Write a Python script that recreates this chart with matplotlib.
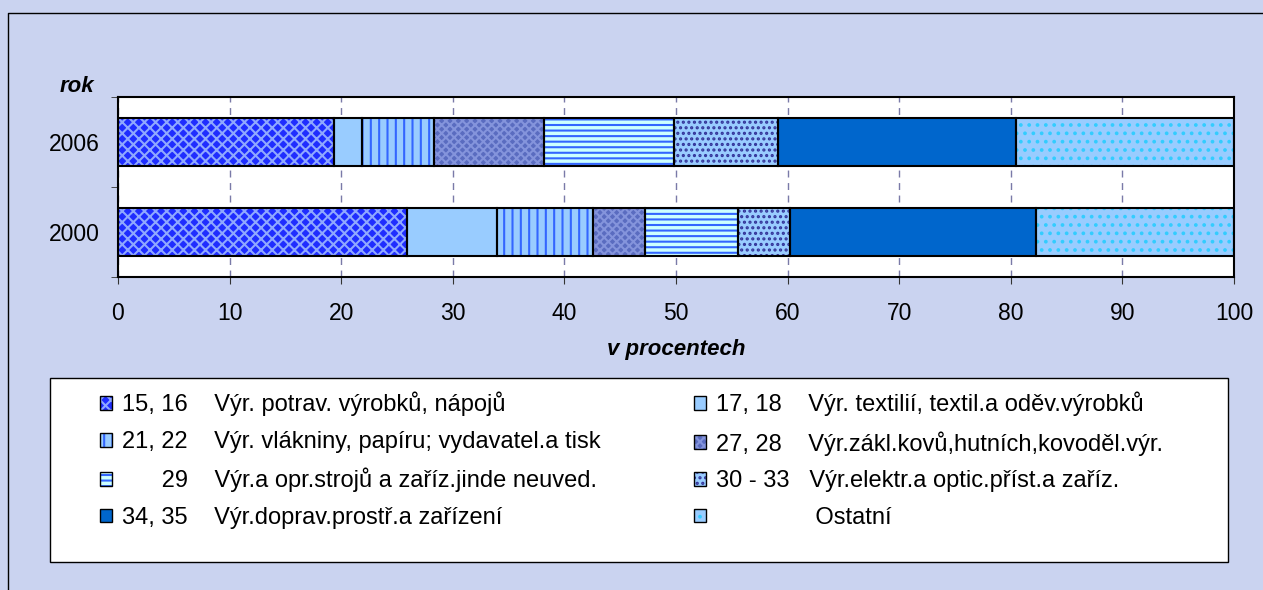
import numpy as np
import matplotlib.pyplot as plt
from matplotlib.patches import Patch, Rectangle
from matplotlib.lines import Line2D

plt.rcParams['font.family'] = ['Liberation Sans', 'DejaVu Sans']
plt.rcParams['hatch.linewidth'] = 1.5

years = ['2000', '2006']
labels = [
    '15, 16    Výr. potrav. výrobků, nápojů',
    '17, 18    Výr. textilií, textil.a oděv.výrobků',
    '21, 22    Výr. vlákniny, papíru; vydavatel.a tisk',
    '27, 28    Výr.zákl.kovů,hutních,kovoděl.výr.',
    '      29    Výr.a opr.strojů a zaříz.jinde neuved.',
    '30 - 33   Výr.elektr.a optic.příst.a zaříz.',
    '34, 35    Výr.doprav.prostř.a zařízení',
    '               Ostatní',
]
# shares in percent, same order as labels
share_2000 = [25.9, 8.1, 8.6, 4.6, 8.4, 4.6, 22.1, 17.7]
share_2006 = [19.35, 2.55, 6.4, 9.9, 11.6, 9.3, 21.4, 19.5]

face = ['#1f2dff', '#99ccff', '#99ccff', '#5a6cc0', '#ccffff', '#99ccff', '#0066cc', '#99ccff']
hatch_col = ['#8fa8ff', '#99ccff', '#3366ff', '#8494dc', '#3366ff', '#333399', '#0066cc', '#33ccff']
hatches = ['xxx', '', '||', 'xxxx', '---', '...', '', '..']

W, H = 1263, 590
fig = plt.figure(figsize=(W / 100, H / 100), dpi=100, facecolor='#cad3f0')
ax = fig.add_axes([118 / W, 1 - 277 / H, (1234 - 118) / W, (277 - 97) / H])
ax.set_facecolor('white')

values = np.array([share_2000, share_2006])
ypos = np.arange(len(years))
left = np.zeros(len(years))
for i in range(len(labels)):
    # hatch colour comes from edgecolor, so outline is drawn separately
    ax.barh(ypos, values[:, i], left=left, height=0.54, color=face[i],
            edgecolor=hatch_col[i], hatch=hatches[i], linewidth=0, zorder=2)
    ax.barh(ypos, values[:, i], left=left, height=0.54, fill=False,
            edgecolor='black', linewidth=1.5, zorder=3)
    left += values[:, i]

ax.set_xlim(0, 100)
ax.set_ylim(-0.5, 1.5)
ax.set_xticks(range(0, 101, 10))
ax.set_yticks(ypos)
ax.set_yticklabels(years)
ax.set_yticks([-0.5, 0.5, 1.5], minor=True)
ax.tick_params(axis='y', which='major', length=0, pad=13, labelsize=16.5)
ax.tick_params(axis='y', which='minor', length=5, color='#333333')
ax.tick_params(axis='x', length=5, color='#333333', labelsize=16.5, pad=13)
ax.grid(axis='x', linestyle=(0, (5, 4)), color='#7a7aa8', linewidth=1)
ax.set_axisbelow(True)
for s in ax.spines.values():
    s.set_linewidth(1.5)

ax.set_xlabel('v procentech', fontsize=16, fontweight='bold', fontstyle='italic')
ax.xaxis.set_label_coords(0.5, -0.345)
fig.text(77 / W, 1 - 86 / H, 'rok', fontsize=16, fontweight='bold', fontstyle='italic',
         ha='center', va='center')

# outer chart border (left and top visible)
fig.add_artist(Line2D([8 / W, 8 / W, 1.0], [0.0, 1 - 13 / H, 1 - 13 / H],
                      transform=fig.transFigure, color='black', linewidth=1))

# legend box
fig.add_artist(Rectangle((50 / W, 1 - 562 / H), (1228 - 50) / W, (562 - 378) / H,
                         transform=fig.transFigure, facecolor='white',
                         edgecolor='black', linewidth=1, zorder=0))

handles = []
for i in range(len(labels)):
    handles.append((Patch(facecolor=face[i], edgecolor=hatch_col[i], hatch=hatches[i], linewidth=0),
                    Patch(fill=False, edgecolor='black', linewidth=1)))
order = [0, 2, 4, 6, 1, 3, 5, 7]
fig.legend([handles[k] for k in order], [labels[k] for k in order],
           loc='upper left', bbox_to_anchor=(88 / W, 1 - 380 / H), ncol=2,
           frameon=False, borderpad=0, fontsize=17, handlelength=0.52,
           handleheight=0.52, handletextpad=0.42, labelspacing=0.62,
           columnspacing=3.95)

fig.savefig('out.png', dpi=100, facecolor=fig.get_facecolor())
